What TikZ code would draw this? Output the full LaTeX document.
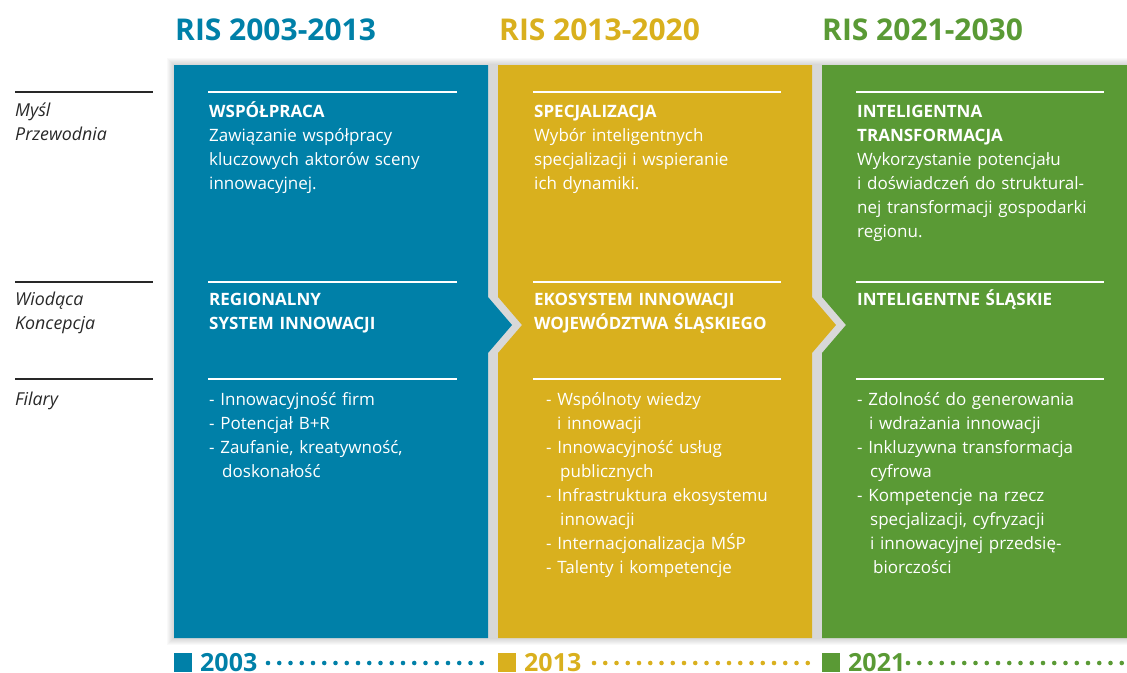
\documentclass[tikz,border=0pt]{standalone}
\usepackage{fontspec}
\setmainfont{Open Sans}
\usepackage{tikz}
\usetikzlibrary{positioning,calc}
\definecolor{risblue}{RGB}{0,128,168}
\definecolor{risyellow}{RGB}{217,176,30}
\definecolor{risgreen}{RGB}{90,154,53}
\definecolor{labelgray}{RGB}{40,40,40}
\tikzset{
    title/.style={anchor=base west, inner sep=0, font=\fontsize{30}{36}\selectfont\bfseries},
    coltext/.style={anchor=base west, inner sep=0, text width=260pt, align=left, text=white, font=\fontsize{17}{24}\selectfont},
    sidelabel/.style={anchor=base west, inner sep=0, text width=140pt, align=left, text=labelgray, font=\fontsize{17.8}{23.5}\selectfont\itshape},
    year/.style={anchor=base west, inner sep=0, font=\fontsize{25}{30}\selectfont\bfseries},
    rule/.style={line width=2.2pt}
}

\begin{document}
\begin{tikzpicture}[x=1pt,y=-1pt]
    \useasboundingbox (0,0) rectangle (1127,672);

    % Shadow behind the columns
    \foreach \s in {1,...,7}
        \fill[black, opacity=0.022] (174-\s,65-\s) rectangle (1127,638+\s);

    % Columns
    \fill[risblue] (174,65) -- (488,65) -- (488,297) -- (512,325) -- (488,353) -- (488,638) -- (174,638) -- cycle;
    \fill[risyellow] (498,65) -- (812,65) -- (812,297) -- (836,325) -- (812,353) -- (812,638) -- (498,638) -- (498,353) -- (522,325) -- (498,297) -- cycle;
    \fill[risgreen] (822,65) -- (1127,65) -- (1127,638) -- (822,638) -- (822,353) -- (846,325) -- (822,297) -- cycle;

    % Titles
    \node[title, text=risblue] (title1) at (175,40) {RIS 2003-2013};
    \node[title, text=risyellow] (title2) at (499,40) {RIS 2013-2020};
    \node[title, text=risgreen] (title3) at (822,40) {RIS 2021-2030};

    % Row rules
    \foreach \y in {92,282,379} {
        \draw[rule, labelgray] (15,\y) -- (153,\y);
        \draw[rule, white] (208,\y) -- (457,\y);
        \draw[rule, white] (533,\y) -- (781,\y);
        \draw[rule, white] (856,\y) -- (1104,\y);
    }

    % Row labels
    \node[sidelabel] (mysl) at (15,116.7) {Myśl\\Przewodnia};
    \node[sidelabel] (wiodaca) at (15,305.7) {Wiodąca\\Koncepcja};
    \node[sidelabel] (filary) at (15,405) {Filary};

    % RIS 2003-2013
    \node[coltext] (mysl1) at (209,117.7) {\textbf{WSPÓŁPRACA}\\Zawiązanie współpracy\\kluczowych aktorów sceny\\innowacyjnej.};
    \node[coltext] (konc1) at (209,305.7) {\textbf{REGIONALNY}\\\textbf{SYSTEM INNOWACJI}};
    \node[coltext] (fil1) at (209,405.7) {- Innowacyjność firm\\- Potencjał B+R\\- Zaufanie, kreatywność,\\\hspace*{13pt}doskonałość};

    % RIS 2013-2020
    \node[coltext] (mysl2) at (534,117.7) {\textbf{SPECJALIZACJA}\\Wybór inteligentnych\\specjalizacji i wspieranie\\ich dynamiki.};
    \node[coltext] (konc2) at (534,305.7) {\textbf{EKOSYSTEM INNOWACJI}\\\textbf{WOJEWÓDZTWA ŚLĄSKIEGO}};
    \node[coltext] (fil2) at (546,405.7) {- Wspólnoty wiedzy\\\hspace*{11pt}i innowacji\\- Innowacyjność usług\\\hspace*{14pt}publicznych\\- Infrastruktura ekosystemu\\\hspace*{14pt}innowacji\\- Internacjonalizacja MŚP\\- Talenty i kompetencje};

    % RIS 2021-2030
    \node[coltext] (mysl3) at (857,117.7) {\textbf{INTELIGENTNA}\\\textbf{TRANSFORMACJA}\\Wykorzystanie potencjału\\i doświadczeń do struktural-\\nej transformacji gospodarki\\regionu.};
    \node[coltext] (konc3) at (857,305.7) {\textbf{INTELIGENTNE ŚLĄSKIE}};
    \node[coltext] (fil3) at (857,405.7) {- Zdolność do generowania\\\hspace*{12pt}i wdrażania innowacji\\- Inkluzywna transformacja\\\hspace*{13pt}cyfrowa\\- Kompetencje na rzecz\\\hspace*{13pt}specjalizacji, cyfryzacji\\\hspace*{13pt}i innowacyjnej przedsię-\\\hspace*{16pt}biorczości};

    % Timeline
    \fill[risblue] (174,653) rectangle (192,672);
    \node[year, text=risblue] (y1) at (200,671) {2003};
    \foreach \i in {0,...,19} \fill[risblue] (268+\i*11.25,663) circle (2.3);
    \fill[risyellow] (498,653) rectangle (516,672);
    \node[year, text=risyellow] (y2) at (524,671) {2013};
    \foreach \i in {0,...,19} \fill[risyellow] (594+\i*11.25,663) circle (2.3);
    \fill[risgreen] (822,653) rectangle (840,672);
    \node[year, text=risgreen] (y3) at (848,671) {2021};
    \foreach \i in {0,...,19} \fill[risgreen] (908+\i*11.25,663) circle (2.3);
\end{tikzpicture}
\end{document}
